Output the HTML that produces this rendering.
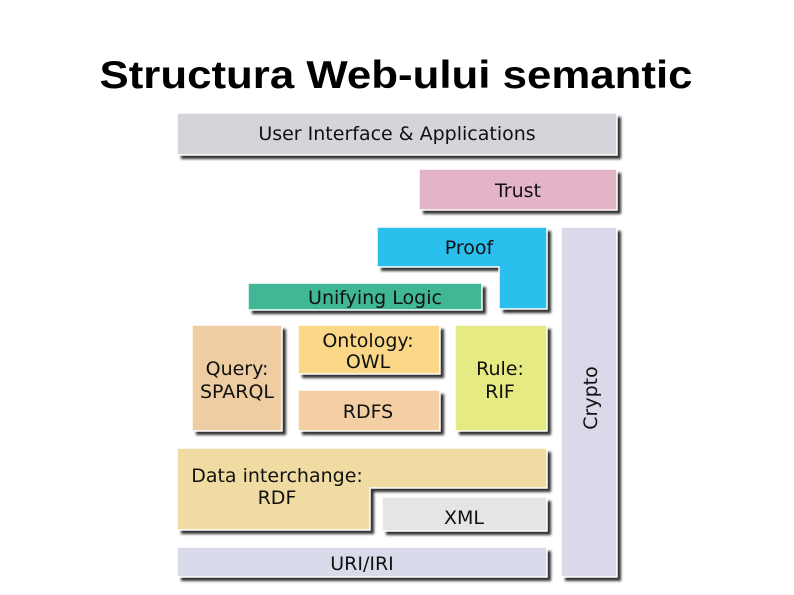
<!DOCTYPE html>
<html><head><meta charset="utf-8"><style>
html,body{margin:0;padding:0;background:#fff;}
svg{display:block;}
.t{font-family:"DejaVu Sans","Liberation Sans",sans-serif;font-size:19px;fill:#111;text-anchor:middle;}
</style></head><body>
<svg width="794" height="595" viewBox="0 0 794 595" xmlns="http://www.w3.org/2000/svg">
<defs><filter id="s" x="-5%" y="-5%" width="115%" height="130%"><feGaussianBlur stdDeviation="1.2"/></filter></defs>
<text x="396" y="88" font-family="Liberation Sans, Arial, sans-serif" font-weight="bold" font-size="39" text-anchor="middle" textLength="593" lengthAdjust="spacingAndGlyphs">Structura Web-ului semantic</text>
<g fill="#333" filter="url(#s)" transform="translate(4,4)">
<rect x="177" y="113" width="440" height="42"/>
<rect x="419" y="169" width="198" height="41"/>
<path d="M377 227H547V309H499V267H377Z"/>
<rect x="561" y="227" width="56" height="350"/>
<rect x="248" y="283" width="234" height="27"/>
<rect x="192" y="325" width="90" height="106"/>
<rect x="298" y="325" width="142" height="49"/>
<rect x="298" y="390" width="142" height="41"/>
<rect x="455" y="325" width="92" height="106"/>
<path d="M177 448H547V488H370V530H177Z"/>
<rect x="382" y="497" width="165" height="34"/>
<rect x="177" y="547" width="370" height="30"/>
</g>
<g stroke="#fff" stroke-width="1.5">
<rect x="177" y="113" width="440" height="42" fill="#d4d4da"/>
<rect x="419" y="169" width="198" height="41" fill="#e3b3c8"/>
<path d="M377 227H547V309H499V267H377Z" fill="#2bbfee"/>
<rect x="561" y="227" width="56" height="350" fill="#d9d9ea"/>
<rect x="248" y="283" width="234" height="27" fill="#40b896"/>
<rect x="192" y="325" width="90" height="106" fill="#eecda2"/>
<rect x="298" y="325" width="142" height="49" fill="#fbd888"/>
<rect x="298" y="390" width="142" height="41" fill="#f3cfa3"/>
<rect x="455" y="325" width="92" height="106" fill="#e5ea83"/>
<path d="M177 448H547V488H370V530H177Z" fill="#f0dca2"/>
<rect x="382" y="497" width="165" height="34" fill="#e5e5e5"/>
<rect x="177" y="547" width="370" height="30" fill="#d9dbea"/>
</g>
<text class="t" x="397" y="140">User Interface &amp; Applications</text>
<text class="t" x="518" y="197">Trust</text>
<text class="t" x="469" y="254">Proof</text>
<text class="t" x="375" y="304">Unifying Logic</text>
<text class="t" x="237" y="375">Query:</text>
<text class="t" x="237" y="398">SPARQL</text>
<text class="t" x="368" y="347">Ontology:</text>
<text class="t" x="368" y="368">OWL</text>
<text class="t" x="368" y="418">RDFS</text>
<text class="t" x="500" y="375">Rule:</text>
<text class="t" x="500" y="398">RIF</text>
<text class="t" x="277" y="482">Data interchange:</text>
<text class="t" x="277" y="504">RDF</text>
<text class="t" x="464" y="524">XML</text>
<text class="t" x="362" y="570">URI/IRI</text>
<text class="t" transform="translate(597,398) rotate(-90)">Crypto</text>
</svg>
</body></html>
